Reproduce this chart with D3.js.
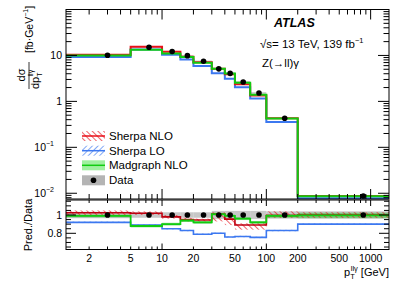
<!DOCTYPE html>
<html><head><meta charset="utf-8">
<script src="https://cdn.jsdelivr.net/npm/d3@7"></script>
<style>body{margin:0;background:#fff}svg{display:block;font-family:"Liberation Sans",Arial,sans-serif}</style>
</head><body><svg id="c" width="411" height="284"></svg>
<script>
// ---- data ----
const binEdges = [0, 5, 10, 15, 20, 30, 40, 50, 70, 100, 200, 1500];
const dataX    = [3, 7.5, 12.5, 17.5, 25, 35, 45, 60, 85, 150, 850];
const dataY    = [10.1, 15.1, 12.2, 9.9, 7.5, 5.1, 4.07, 2.65, 1.52, 0.43, 0.0087];
const dataRelErr = [0.035, 0.03, 0.03, 0.03, 0.03, 0.045, 0.045, 0.045, 0.045, 0.04, 0.04];
const sherpaNLO = [10.35, 15.4, 11.96, 9.4, 7.09, 5.15, 3.89, 2.36, 1.35, 0.428, 0.0087];
const madgraphNLO = [10.0, 13.3, 11.0, 9.3, 6.9, 5.15, 4.03, 2.54, 1.40, 0.426, 0.00866];
const sherpaLO = [9.3, 13.4, 10.4, 8.2, 5.9, 4.1, 3.1, 2.03, 1.15, 0.357, 0.0078];
const ratioSherpaNLO = [1.025, 1.02, 0.98, 0.95, 0.945, 1.01, 0.955, 0.89, 0.89, 0.995, 1.0];
const ratioSherpaNLOLo = [1.0, 1.0, 0.96, 0.93, 0.93, 0.93, 0.89, 0.84, 0.84, 0.97, 0.97];
const ratioSherpaNLOHi = [1.05, 1.04, 1.0, 0.97, 0.96, 1.03, 0.98, 0.91, 0.91, 1.04, 1.03];
const ratioMadgraph = [0.99, 0.88, 0.90, 0.94, 0.92, 1.01, 0.99, 0.96, 0.92, 0.99, 0.995];
const ratioMadgraphErr = [0.015, 0.015, 0.015, 0.015, 0.015, 0.015, 0.015, 0.015, 0.015, 0.02, 0.03];
const ratioSherpaLO = [0.92, 0.89, 0.85, 0.83, 0.79, 0.80, 0.76, 0.765, 0.755, 0.83, 0.90];
const ratioSherpaLOErr = [0.008, 0.008, 0.008, 0.008, 0.008, 0.008, 0.008, 0.008, 0.008, 0.008, 0.008];
const xTickLabels = [2, 5, 10, 20, 50, 100, 200, 500, 1000];
const yTickLabels = [{v:10,t:"10"},{v:1,t:"1"},{v:0.1,t:"10",e:"−1"},{v:0.01,t:"10",e:"−2"}];
const ratioTickLabels = [{v:0.8,t:"0.8"},{v:1,t:"1"}];
const legendItems = ["Sherpa NLO","Sherpa LO","Madgraph NLO","Data"];

const RED="#e8101a", BLUE="#3c78f0", GREEN="#10cc10", GREENBAND="#a0f0a0", GRAY="#b4b4b4";

const svg = d3.select("#c");
const L=66, R=389, T1=9.5, B1=199, T2=200, B2=249.5;
const x = d3.scaleLog().domain([1.2,1500]).range([L,R]);
const y = d3.scaleLog().domain([0.0075,100]).range([B1,T1]);
const yr = d3.scaleLinear().domain([0.623,1.164]).range([B2,T2]);
const xe = e => x(Math.max(e, x.domain()[0]));

const defs = svg.append("defs");
function hatch(id, col, rot){
  defs.append("pattern").attr("id",id).attr("patternUnits","userSpaceOnUse")
   .attr("width",4).attr("height",4).attr("patternTransform","rotate("+rot+")")
   .append("line").attr("x1",0).attr("y1",0).attr("x2",0).attr("y2",4)
   .attr("stroke",col).attr("stroke-width",1.3);
}
hatch("hr",RED,-45); hatch("hb",BLUE,45);
defs.append("clipPath").attr("id","cp1").append("rect").attr("x",L).attr("y",T1).attr("width",R-L).attr("height",B1-T1);
defs.append("clipPath").attr("id","cp2").append("rect").attr("x",L).attr("y",T2).attr("width",R-L).attr("height",B2-T2);

const idx = d3.range(dataY.length);
function stepPath(vals, ys){
  let p="";
  idx.forEach(i=>{
    const x0=xe(binEdges[i]), x1=xe(binEdges[i+1]), yy=ys(vals[i]);
    p += (i===0?"M":"L")+x0+","+yy+"L"+x1+","+yy;
  });
  return p;
}

// ---- top panel ----
const g1 = svg.append("g").attr("clip-path","url(#cp1)");
g1.selectAll(".db").data(idx).join("rect")
  .attr("x",i=>xe(binEdges[i])).attr("width",i=>xe(binEdges[i+1])-xe(binEdges[i]))
  .attr("y",i=>y(dataY[i]*(1+dataRelErr[i]))).attr("height",i=>y(dataY[i]*(1-dataRelErr[i]))-y(dataY[i]*(1+dataRelErr[i])))
  .attr("fill",GRAY).attr("opacity",0.7);
g1.append("path").attr("d",stepPath(sherpaLO,y)).attr("fill","none").attr("stroke",BLUE).attr("stroke-width",2);
g1.append("path").attr("d",stepPath(sherpaNLO,y)).attr("fill","none").attr("stroke",RED).attr("stroke-width",2);
g1.append("path").attr("d",stepPath(madgraphNLO,y)).attr("fill","none").attr("stroke",GREEN).attr("stroke-width",2);
g1.selectAll(".dp").data(idx).join("circle").attr("cx",i=>x(dataX[i])).attr("cy",i=>y(dataY[i])).attr("r",2.8).attr("fill","#000");

// ---- ratio panel ----
const g2 = svg.append("g").attr("clip-path","url(#cp2)");
g2.selectAll(".db2").data(idx).join("rect")
  .attr("x",i=>xe(binEdges[i])).attr("width",i=>xe(binEdges[i+1])-xe(binEdges[i]))
  .attr("y",i=>yr(1+dataRelErr[i])).attr("height",i=>yr(1-dataRelErr[i])-yr(1+dataRelErr[i]))
  .attr("fill",GRAY).attr("opacity",0.75);
function band(g, lo, hi, fill, op){
  g.append("g").selectAll("rect").data(idx).join("rect")
   .attr("x",i=>xe(binEdges[i])).attr("width",i=>xe(binEdges[i+1])-xe(binEdges[i]))
   .attr("y",i=>yr(hi[i])).attr("height",i=>yr(lo[i])-yr(hi[i]))
   .attr("fill",fill).attr("opacity",op);
}
band(g2, idx.map(i=>ratioMadgraph[i]-ratioMadgraphErr[i]), idx.map(i=>ratioMadgraph[i]+ratioMadgraphErr[i]), "#40c040", 0.55);
band(g2, idx.map(i=>ratioSherpaLO[i]-ratioSherpaLOErr[i]), idx.map(i=>ratioSherpaLO[i]+ratioSherpaLOErr[i]), "url(#hb)", 1);
band(g2, ratioSherpaNLOLo, ratioSherpaNLOHi, "url(#hr)", 1);
g2.append("path").attr("d",stepPath(ratioSherpaLO,yr)).attr("fill","none").attr("stroke",BLUE).attr("stroke-width",1.6);
g2.append("path").attr("d",stepPath(ratioSherpaNLO,yr)).attr("fill","none").attr("stroke","#c00010").attr("stroke-width",1.6);
g2.append("path").attr("d",stepPath(ratioMadgraph,yr)).attr("fill","none").attr("stroke",GREEN).attr("stroke-width",1.8);
g2.selectAll(".dp2").data(idx).join("circle").attr("cx",i=>x(dataX[i])).attr("cy",yr(1)).attr("r",2.8).attr("fill","#000");

// ---- axes / frames ----
const ax = svg.append("g").attr("stroke","#000").attr("stroke-width",1);
function frame(t,b){ ax.append("rect").attr("x",L).attr("y",t).attr("width",R-L).attr("height",b-t).attr("fill","none"); }
frame(T1,B1); frame(T2,B2);
const xTicks=[];
for (let d=1; d<=1000; d*=10) for (let m=1;m<=9;m++){ const v=m*d; if(v>=1.2&&v<=1500) xTicks.push({v, major:m===1}); }
function xTickMarks(t,b,lenMaj,lenMin){
  xTicks.forEach(k=>{
    const px=x(k.v), l=k.major?lenMaj:lenMin;
    ax.append("line").attr("x1",px).attr("x2",px).attr("y1",b).attr("y2",b-l);
    ax.append("line").attr("x1",px).attr("x2",px).attr("y1",t).attr("y2",t+l);
  });
}
xTickMarks(T1,B1,10,5); xTickMarks(T2,B2,6,3);
for (let d=0.001; d<=100; d*=10) for (let m=1;m<=9;m++){
  const v=m*d; if(v<0.0075||v>100) continue;
  const l = m===1?11:5.5, py=y(v);
  ax.append("line").attr("x1",L).attr("x2",L+l).attr("y1",py).attr("y2",py);
  ax.append("line").attr("x1",R).attr("x2",R-l).attr("y1",py).attr("y2",py);
}
for (let v=0.65; v<=1.16; v+=0.05){
  const vv=Math.round(v*100)/100, maj=(Math.abs(vv-0.8)<1e-6||Math.abs(vv-1)<1e-6);
  const l = maj?10:5, py=yr(vv);
  ax.append("line").attr("x1",L).attr("x2",L+l).attr("y1",py).attr("y2",py);
  ax.append("line").attr("x1",R).attr("x2",R-l).attr("y1",py).attr("y2",py);
}

// labels
const fs=10.5;
svg.append("g").selectAll("text").data(xTickLabels).join("text")
  .attr("x",d=>x(d)).attr("y",262).attr("text-anchor","middle").attr("font-size",fs).text(d=>d);
const yl = svg.append("g").selectAll("g").data(yTickLabels).join("text")
  .attr("x",L-4).attr("y",d=>y(d.v)+4).attr("text-anchor","end").attr("font-size",fs);
yl.each(function(d){
  const s=d3.select(this);
  if(d.e){ s.attr("dx",-8); s.append("tspan").text(d.t); s.append("tspan").attr("dy",-5).attr("font-size",7).text(d.e); }
  else s.text(d.t);
});
svg.append("g").selectAll("text").data(ratioTickLabels).join("text")
  .attr("x",L-4).attr("y",d=>yr(d.v)+4).attr("text-anchor","end").attr("font-size",fs).text(d=>d.t);

// x axis title
const xt = svg.append("text").attr("x",R).attr("y",276).attr("text-anchor","end").attr("font-size",11);
xt.append("tspan").text("p");
xt.append("tspan").attr("dy",3).attr("font-size",7.5).text("T");
xt.append("tspan").attr("dx",-4).attr("dy",-8).attr("font-size",7.5).text("llγ");
xt.append("tspan").attr("dy",5).text(" [GeV]");

// y axis title (fraction, rotated)
const yt = svg.append("g").attr("transform","translate(29,62) rotate(-90)");
yt.append("text").attr("x",-13).attr("y",-4).attr("text-anchor","middle").attr("font-size",11).text("dσ");
yt.append("line").attr("x1",-27).attr("x2",0).attr("y1",0).attr("y2",0).attr("stroke","#000").attr("stroke-width",0.8);
const den = yt.append("text").attr("x",-27).attr("y",10).attr("font-size",11);
den.append("tspan").text("dp");
den.append("tspan").attr("dy",3).attr("font-size",7).text("T");
den.append("tspan").attr("dx",-4).attr("dy",-9).attr("font-size",7).text("llγ");
const un = yt.append("text").attr("x",9).attr("y",4).attr("font-size",10.5);
un.append("tspan").text("[fb·GeV");
un.append("tspan").attr("dy",-5).attr("font-size",7).text("−1");
un.append("tspan").attr("dy",5).text("]");
svg.append("text").attr("transform","translate(32,225) rotate(-90)").attr("text-anchor","middle").attr("font-size",11).text("Pred./Data");

// ATLAS labels
svg.append("text").attr("x",274).attr("y",27).attr("font-size",12.5).attr("font-weight","bold").attr("font-style","italic").text("ATLAS");
const sq = svg.append("text").attr("x",260).attr("y",48).attr("font-size",11.5);
sq.append("tspan").text("√s= 13 TeV, 139 fb");
sq.append("tspan").attr("dy",-5).attr("font-size",7.5).text("−1");
svg.append("text").attr("x",262).attr("y",67).attr("font-size",11.5).text("Z(→ll)γ");

// legend
const lg = svg.append("g");
const rowY = [136, 150.7, 165.3, 180.3];
legendItems.forEach((name,i)=>{
  const cy=rowY[i], x0=82, w=23, h=10;
  if(i===0){ lg.append("rect").attr("x",x0).attr("y",cy-h/2).attr("width",w).attr("height",h).attr("fill","url(#hr)");
    lg.append("line").attr("x1",x0).attr("x2",x0+w).attr("y1",cy).attr("y2",cy).attr("stroke",RED).attr("stroke-width",1.5);}
  if(i===1){ lg.append("rect").attr("x",x0).attr("y",cy-h/2).attr("width",w).attr("height",h).attr("fill","url(#hb)");
    lg.append("line").attr("x1",x0).attr("x2",x0+w).attr("y1",cy).attr("y2",cy).attr("stroke",BLUE).attr("stroke-width",1.5);}
  if(i===2){ lg.append("rect").attr("x",x0).attr("y",cy-h/2).attr("width",w).attr("height",h).attr("fill",GREENBAND);
    lg.append("line").attr("x1",x0).attr("x2",x0+w).attr("y1",cy).attr("y2",cy).attr("stroke",GREEN).attr("stroke-width",1.5);}
  if(i===3){ lg.append("rect").attr("x",x0).attr("y",cy-h/2).attr("width",w).attr("height",h).attr("fill",GRAY);
    lg.append("circle").attr("cx",x0+w/2).attr("cy",cy).attr("r",2.8).attr("fill","#000");}
  lg.append("text").attr("x",109).attr("y",cy+4).attr("font-size",11.5).text(name);
});
</script></body></html>
